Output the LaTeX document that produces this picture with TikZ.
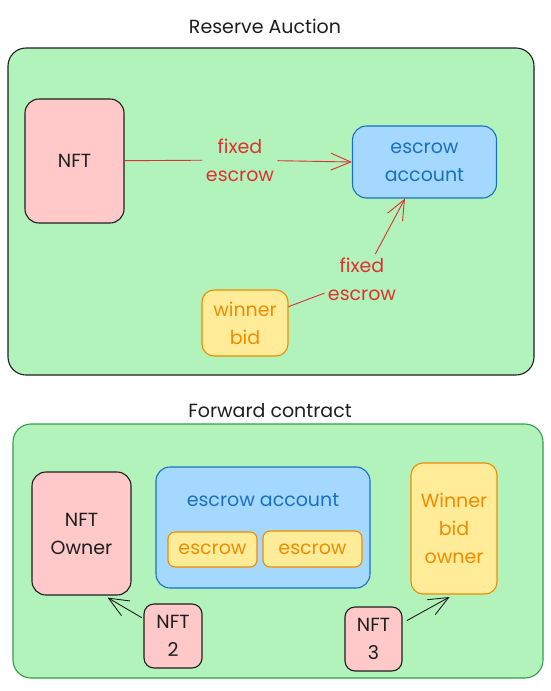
\documentclass[tikz,border=0pt]{standalone}
\usepackage{fontspec}
\setmainfont{Poppins}
\usetikzlibrary{arrows.meta}
\definecolor{areagreen}{RGB}{178, 242, 187}
\definecolor{areaedge}{RGB}{47, 158, 68}
\definecolor{inkdark}{RGB}{30, 30, 30}
\definecolor{nftpink}{RGB}{255, 201, 201}
\definecolor{acctblue}{RGB}{165, 216, 255}
\definecolor{acctedge}{RGB}{25, 113, 194}
\definecolor{bidyellow}{RGB}{255, 236, 153}
\definecolor{bidorange}{RGB}{240, 140, 0}
\definecolor{flowred}{RGB}{224, 49, 49}

\begin{document}
\begin{tikzpicture}[x=1pt, y=-1pt, line join=round,
  every node/.style={font={\fontsize{19}{28}\selectfont}, text=inkdark, align=center},
  area/.style={draw=inkdark, fill=areagreen, line width=1.1pt, rounded corners=18pt, inner sep=0pt},
  nftbox/.style={draw=inkdark, fill=nftpink, line width=1.1pt, rounded corners=14pt, inner sep=0pt},
  acctbox/.style={draw=acctedge, fill=acctblue, text=acctedge, line width=1.1pt, rounded corners=14pt, inner sep=0pt},
  bidbox/.style={draw=bidorange, fill=bidyellow, text=bidorange, line width=1.1pt, rounded corners=12pt, inner sep=0pt},
  flow/.style={flowred, line width=0.9pt},
  tip/.style={-{Straight Barb[length=20pt, width=17pt]}}]
\useasboundingbox (0,0) rectangle (551,691);
% Reserve auction
\node (auctiontitle) at (265,26) {Reserve Auction};
\node[area, minimum width=526pt, minimum height=327pt] (auction) at (271,211.5) {};
\node[nftbox, minimum width=99pt, minimum height=124pt] (nft) at (74.5,161) {NFT};
\node[acctbox, minimum width=144pt, minimum height=72pt] (esc) at (424.5,162) {escrow\\account};
\node[bidbox, minimum width=86pt, minimum height=66pt] (bid) at (245,323) {winner\\bid};
\node[text=flowred] (fx1) at (240,160) {fixed\\escrow};
\node[text=flowred] (fx2) at (362,279) {fixed\\escrow};
\draw[flow] (nft) -- (fx1);
\draw[flow, tip] (fx1) -- (esc.west);
\draw[flow] (bid) -- (fx2);
\draw[flow, tip] (fx2) -- (esc);
% Forward contract
\node (forwardtitle) at (270,411) {Forward contract};
\node[area, draw=areaedge, minimum width=530pt, minimum height=254pt] (forward) at (278,551) {};
\node[nftbox, minimum width=99pt, minimum height=123pt] (owner) at (81.5,533.5) {NFT\\Owner};
\node[acctbox, minimum width=214pt, minimum height=121pt] (pool) at (263,527.5) {};
\node[text=acctedge] (poollabel) at (263,500) {escrow account};
\node[bidbox, rounded corners=7pt, minimum width=89pt, minimum height=35pt] (slot1) at (212.5,549.5) {escrow};
\node[bidbox, rounded corners=7pt, minimum width=99pt, minimum height=36pt] (slot2) at (312.5,549) {escrow};
\node[bidbox, minimum width=86pt, minimum height=131pt] (winner) at (454,528.5) {Winner\\bid\\owner};
\node[nftbox, rounded corners=10pt, minimum width=58pt, minimum height=64pt] (nft2) at (173,636) {NFT\\2};
\node[nftbox, rounded corners=10pt, minimum width=57pt, minimum height=64pt] (nft3) at (373.5,639) {NFT\\3};
\draw[inkdark, line width=0.9pt, tip, shorten <=2pt, shorten >=4pt] (nft2) -- (owner.-70);
\draw[inkdark, line width=0.9pt, tip, shorten <=5pt, shorten >=5pt] (nft3) -- (winner.south);
\end{tikzpicture}
\end{document}
